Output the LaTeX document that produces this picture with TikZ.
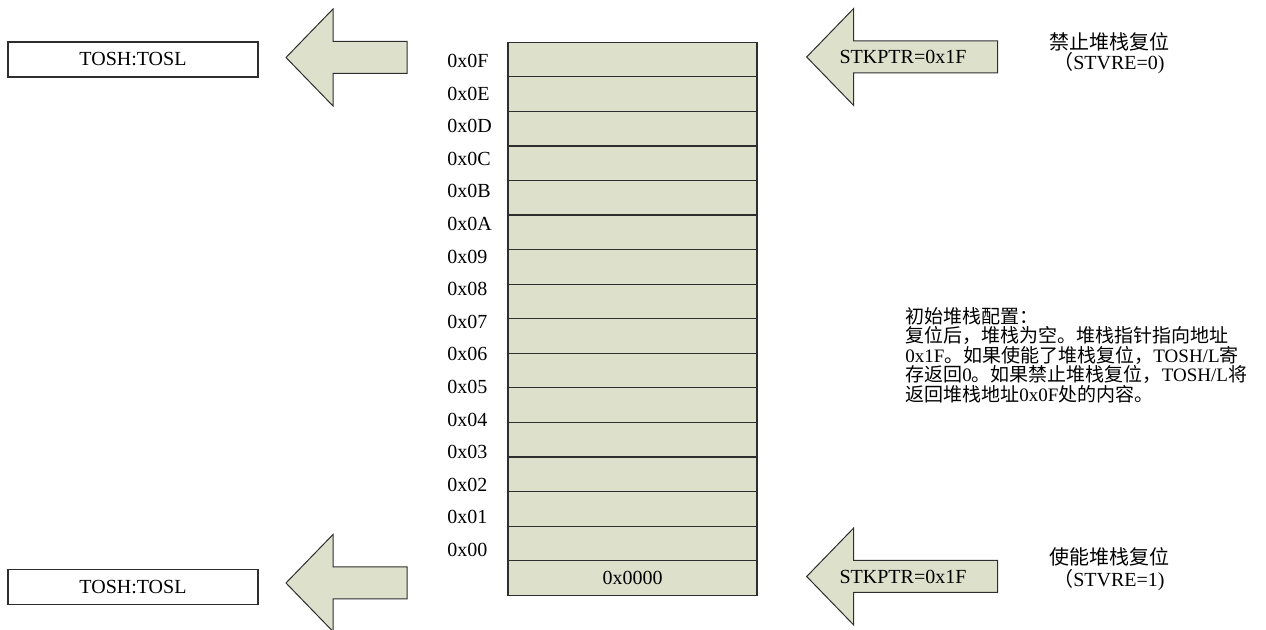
\documentclass[tikz,border=0pt]{standalone}
\usepackage{fontspec}
\setmainfont{Liberation Serif}
\newfontfamily\cjk{Noto Sans CJK SC}
\newcommand{\zh}[1]{{\cjk #1}}
\definecolor{stackfill}{RGB}{221, 225, 204}
\definecolor{edgegray}{gray}{0.18}
\tikzset{
	cell/.style={fill=stackfill, draw=edgegray, line width=0.6pt},
	blockarrow/.style={fill=stackfill, draw=edgegray, line width=0.5pt, line join=miter},
	txt/.style={inner sep=0pt, font=\fontsize{10}{10}\selectfont},
	regbox/.style={txt, draw=edgegray, line width=0.6pt, minimum width=125pt, minimum height=17.5pt},
}

\begin{document}
\begin{tikzpicture}[x=0.5pt, y=-0.5pt]
			\useasboundingbox (0,0) rectangle (1266,630);
			\def\rh{34.56}
			\def\lh{32.6}

			% Stack: 15 empty slots and the bottom word
			\foreach \i in {0,...,15}
				\draw[cell] (508, 42.3+\i*\rh) rectangle (757, 42.3+\i*\rh+\rh);
			\node[txt] (base) at (632.5, 42.3+15.5*\rh) {0x0000};

			% Slot addresses
			\foreach \lab [count=\k from 0] in {0F,0E,0D,0C,0B,0A,09,08,07,06,05,04,03,02,01,00}
				\node[txt, anchor=west] (a\lab) at (447, 61+\k*\lh) {0x\lab};

			% Block arrows (tip x / tail x / centre y)
			\foreach \tx/\ex/\cy in {286/407/57.5, 286/407/583, 806.7/997.7/57, 806.7/997.7/576.5}
				\draw[blockarrow] (\tx, \cy) -- (\tx+47, \cy-48.5) -- (\tx+47, \cy-16)
					-- (\ex, \cy-16) -- (\ex, \cy+16) -- (\tx+47, \cy+16) -- (\tx+47, \cy+48.5) -- cycle;

			% Left: top of stack registers
			\node[regbox] (tosTop) at (133, 59.5) {TOSH:TOSL};
			\node[regbox] (tosBot) at (133, 586.8) {TOSH:TOSL};

			% Right: stack pointer after reset
			\node[txt] (ptrTop) at (903, 57) {STKPTR=0x1F};
			\node[txt] (ptrBot) at (903, 577) {STKPTR=0x1F};

			\node[txt, align=center, font=\fontsize{10}{10}\selectfont] (rstOff) at (1109, 53)
				{\zh{禁止堆栈复位}\\\zh{（}STVRE=0)};
			\node[txt, align=center, font=\fontsize{10}{11}\selectfont] (rstOn) at (1109, 569)
				{\zh{使能堆栈复位}\\\zh{（}STVRE=1)};

			% Note
			\node[txt, anchor=north west, align=left, font=\fontsize{9.5}{9.75}\selectfont] (note) at (905, 307)
				{\zh{初始堆栈配置：}\\
				 \zh{复位后，堆栈为空。堆栈指针指向地址}\\
				 0x1F\zh{。如果使能了堆栈复位，}TOSH/L\zh{寄}\\
				 \zh{存返回}0\zh{。如果禁止堆栈复位，}TOSH/L\zh{将}\\
				 \zh{返回堆栈地址}0x0F\zh{处的内容。}};

		\end{tikzpicture}
\end{document}
